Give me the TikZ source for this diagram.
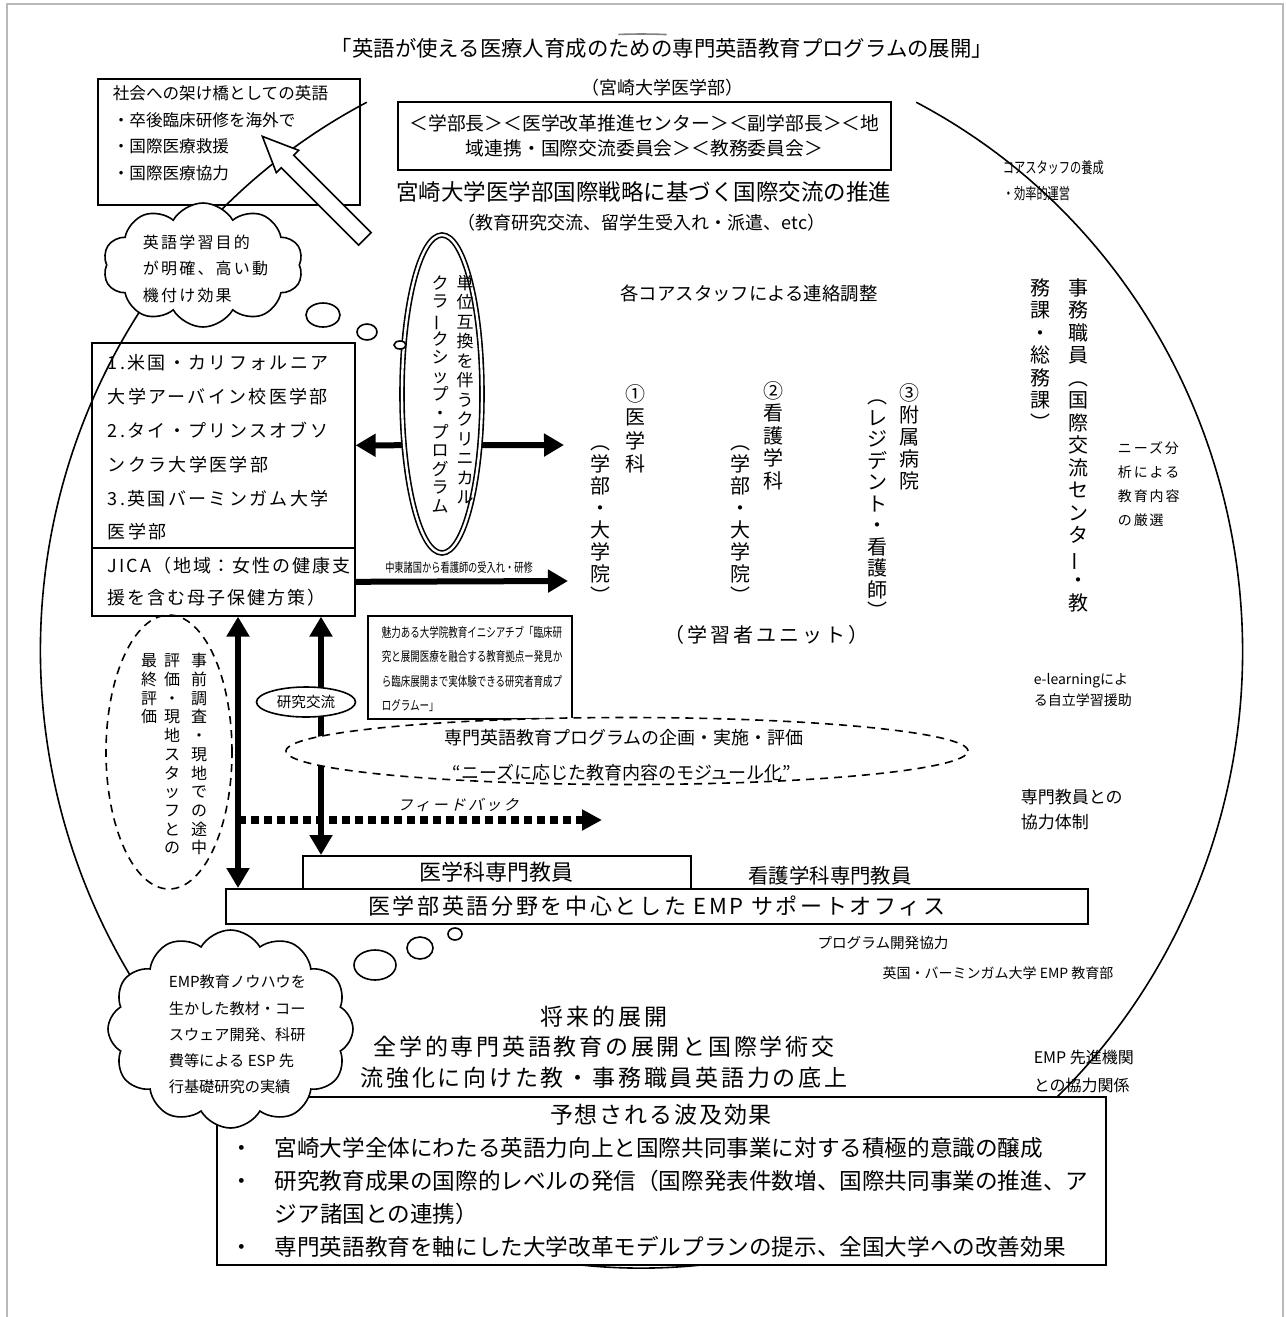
\documentclass[tikz,border=0pt]{standalone}
\usepackage{fontspec}
\usepackage{graphicx}
\setmainfont{Noto Sans CJK JP}
\newfontfamily\jpnarrow[FakeStretch=0.72]{Noto Sans CJK JP}
\newfontfamily\jpslant[FakeSlant=0.25]{Noto Sans CJK JP}
\newcommand{\jsize}[2]{\fontsize{#1}{#2}\selectfont}
\newcommand{\spaced}[1]{\addfontfeatures{LetterSpace=#1}}
\newcommand{\tatetop}{\rule{0pt}{0.88em}}
\newcommand{\tatebar}{\rotatebox[origin=c]{90}{ー}}
\usetikzlibrary{arrows.meta,shapes.geometric,shapes.symbols,shapes.arrows}

\begin{document}
\begin{tikzpicture}[x=0.5pt, y=-0.5pt, line width=0.8pt,
    box/.style={draw, inner sep=0pt, anchor=north west},
    para/.style={align=left, inner sep=0pt, anchor=north west},
    tate/.style={align=center, inner sep=0pt, anchor=north},
    oval/.style={ellipse, draw, inner sep=0pt},
    puff/.style={cloud, draw, fill=white, cloud ignores aspect, inner sep=0pt, cloud puff arc=120},
    thickarrow/.style={line width=3pt, >={Triangle[length=10pt,width=11pt]}},
    dashline/.style={dash pattern=on 4pt off 3pt}]
  \useasboundingbox (0,0) rectangle (1285,1317);
  \draw[gray!55, line width=1.2pt] (7,1317) -- (7,4) -- (1283,4) -- (1283,1317);

  % the large oval round the whole programme
  \draw (641.5,651) ++(-62.8:601 and 617) arc[start angle=-62.8, end angle=242.8, x radius=601, y radius=617];
  \draw[gray] (641.5,651) ++(-92.2:601 and 617) arc[start angle=-92.2, end angle=-87.6, x radius=601, y radius=617];

  \node[font=\jsize{10.7}{12}] (title) at (662,48) {「英語が使える医療人育成のための専門英語教育プログラムの展開」};
  \node[font=\jsize{9}{10}] (faculty) at (662,88) {（宮崎大学医学部）};
  \node[draw, minimum width=246.5pt, minimum height=34pt, align=center, font=\jsize{9.4}{12.5}] (council) at (644.5,136) {＜学部長＞＜医学改革推進センター＞＜副学部長＞＜地\\域連携・国際交流委員会＞＜教務委員会＞};
  \node[font=\jsize{11.25}{12}] (strategy) at (643.5,192) {宮崎大学医学部国際戦略に基づく国際交流の推進};
  \node[font=\jsize{9}{10}] (exchange) at (641.5,223) {（教育研究交流、留学生受入れ・派遣、etc）};
  \node[anchor=west, align=left, inner sep=0pt, font=\jpnarrow\jsize{7.8}{13}] (coretrain) at (1002,181) {コアスタッフの養成\\・効率的運営};

  \node[box, minimum width=131pt, minimum height=63pt] (bridge) at (97,78) {};
  \node[para, font=\jsize{8.3}{13.25}] (bridgetext) at (112,85) {社会への架け橋としての英語\\・卒後臨床研修を海外で\\・国際医療救援\\・国際医療協力};
  \node[single arrow, draw, fill=white, minimum height=72.5pt, inner xsep=0pt, inner ysep=4pt, single arrow head extend=3.5pt, single arrow tip angle=48, rotate=135, anchor=tip] (hollow) at (261,135) {};

  \node[puff, cloud puffs=10, minimum width=100pt, minimum height=62pt] (cloudA) at (203,265) {};
  \node[anchor=west, align=left, inner sep=0pt, font=\jsize{8}{13.25}\spaced{14}] (cloudAtext) at (142,268.5) {英語学習目的\\が明確、高い動\\機付け効果};
  \draw[fill=white] (323,315) ellipse [x radius=17, y radius=12];
  \draw[fill=white] (367,332) ellipse [x radius=10, y radius=8];

  \node[box, minimum width=131.5pt, minimum height=102.5pt] (partners) at (91,342) {};
  \node[para, font=\jsize{9}{16.9}\spaced{13}] (partnerstext) at (107,354) {1.米国・カリフォルニア\\大学アーバイン校医学部\\2.タイ・プリンスオブソ\\ンクラ大学医学部\\3.英国バーミンガム大学\\医学部};
  \node[box, minimum width=131.5pt, minimum height=34pt] (jica) at (91,547) {};
  \node[para, font=\jsize{9}{16}\spaced{11}] (jicatext) at (107,556) {JICA（地域：女性の健康支\\援を含む母子保健方策）};

  \node[box, minimum width=194pt, minimum height=16.5pt, font=\jsize{11}{12}] (medstaff) at (302,855) {医学科専門教員};
  \node[box, minimum width=431pt, minimum height=17.5pt, font=\jsize{11}{12}\spaced{12}] (office) at (225,888) {医学部英語分野を中心とした EMP サポートオフィス};

  \coordinate (learnL) at (564,445);
  \coordinate (learnJ) at (568,581);
  \coordinate (colL) at (238,0);
  \coordinate (colR) at (321,0);
  \coordinate (fbEnd) at (602,820);
  \draw[thickarrow, <->] (partners.east) -- (learnL);
  \draw[thickarrow, ->] (jica.east) -- (learnJ);
  \draw[thickarrow, <->] (jica.south -| colL) -- (office.north -| colL);
  \draw[thickarrow, <->] (jica.south -| colR) -- (medstaff.north -| colR);
  \draw[line width=4pt, dash pattern=on 4pt off 2.5pt, -{Triangle[length=10pt,width=10pt]}] (fbEnd -| colL) -- (fbEnd);
  \node[font=\jpnarrow\jsize{6.4}{8}] (nurselabel) at (459,568) {中東諸国から看護師の受入れ・研修};
  \node[font=\jpslant\jsize{7.5}{8}\spaced{18}] (fblabel) at (458,805) {フィードバック};

  \node[oval, double, double distance=1.2pt, fill=white, minimum width=40pt, minimum height=159pt] (clinic) at (442,394) {};
  \node[tate, font=\jsize{8.5}{9.75}] (clinicR) at (465,273.5) {\tatetop 単\\位\\互\\換\\を\\伴\\う\\ク\\リ\\ニ\\カ\\ル};
  \node[tate, font=\jsize{8.5}{9.3}] (clinicL) at (440,273.5) {\tatetop ク\\ラ\\\tatebar\\ク\\シ\\ッ\\プ\\・\\プ\\ロ\\グ\\ラ\\ム};
  \draw[fill=white] (400,345) ellipse [x radius=6, y radius=4];

  \node[tate, font=\jsize{10}{11.75}] (med) at (635,383) {\tatetop ①\\医\\学\\科};
  \node[tate, font=\jsize{10}{11}] (medsub) at (600,431) {\tatetop ︵\\学\\部\\・\\大\\学\\院\\︶};
  \node[tate, font=\jsize{10}{11.25}] (nurse) at (773,380) {\tatetop ②\\看\\護\\学\\科};
  \node[tate, font=\jsize{10}{11}] (nursesub) at (740,431) {\tatetop ︵\\学\\部\\・\\大\\学\\院\\︶};
  \node[tate, font=\jsize{10}{11}] (hosp) at (909,382) {\tatetop ③\\附\\属\\病\\院};
  \node[tate, font=\jsize{10}{10.75}] (hospsub) at (877,385.5) {\tatetop ︵\\レ\\ジ\\デ\\ン\\ト\\・\\看\\護\\師\\︶};
  \node[font=\jsize{10}{11}\spaced{15}] (learners) at (766,635) {（学習者ユニット）};
  \node[font=\jsize{9.2}{10}] (liaison) at (749,293) {各コアスタッフによる連絡調整};

  \node[tate, font=\jsize{10}{11.25}] (staffR) at (1078,277) {\tatetop 事\\務\\職\\員\\︵\\国\\際\\交\\流\\セ\\ン\\タ\\\tatebar\\・\\教};
  \node[tate, font=\jsize{10}{11.25}] (staffL) at (1040,277) {\tatetop 務\\課\\・\\総\\務\\課\\︶};
  \node[anchor=west, align=left, inner sep=0pt, font=\jsize{7}{12}\spaced{14}] (needs) at (1117,484.5) {ニーズ分\\析による\\教育内容\\の厳選};
  \node[anchor=west, align=left, inner sep=0pt, font=\jsize{7}{10.5}] (elearn) at (1033,690) {e-learningによ\\る自立学習援助};
  \node[anchor=west, align=left, inner sep=0pt, font=\jsize{8.5}{12.5}] (coop) at (1020,809.5) {専門教員との\\協力体制};

  \node[box, minimum width=102pt, minimum height=51.5pt] (initiative) at (367,615) {};
  \node[para, font=\jpnarrow\jsize{6.6}{12.15}] (initiativetext) at (381,625.5) {魅力ある大学院教育イニシアチブ「臨床研\\究と展開医療を融合する教育拠点ー発見か\\ら臨床展開まで実体験できる研究者育成プ\\ログラムー」};
  \node[oval, fill=white, minimum width=49.5pt, minimum height=15pt, font=\jsize{7.3}{8}] (research) at (306,702) {研究交流};
  \node[oval, dashline, fill=white, minimum width=341pt, minimum height=33.5pt] (program) at (627,751) {};
  \node[font=\jsize{9}{10}] (programtitle) at (624,738) {専門英語教育プログラムの企画・実施・評価};
  \node[font=\jsize{9}{10}] (programmod) at (622,773) {“ニーズに応じた教育内容のモジュール化”};

  \node[oval, dashline, minimum width=63pt, minimum height=137pt] (evaluation) at (169,752) {};
  \node[tate, font=\jsize{8}{9.35}] (evalR) at (199,652) {\tatetop 事\\前\\調\\査\\・\\現\\地\\で\\の\\途\\中};
  \node[tate, font=\jsize{8}{9.35}] (evalM) at (172,652) {\tatetop 評\\価\\・\\現\\地\\ス\\タ\\ッ\\フ\\と\\の};
  \node[tate, font=\jsize{8}{9.35}] (evalL) at (149,652) {\tatetop 最\\終\\評\\価};

  \node[font=\jsize{10.2}{11}] (nursestaff) at (830,876) {看護学科専門教員};
  \node[font=\jsize{7.3}{8}] (progdev) at (883,943) {プログラム開発協力};
  \node[font=\jsize{7}{8}] (bham) at (998,973) {英国・バーミンガム大学 EMP 教育部};
  \node[align=center, font=\jsize{11.5}{15.25}\spaced{12}] (future) at (604,1047) {将来的展開\\全学的専門英語教育の展開と国際学術交\\流強化に向けた教・事務職員英語力の底上};
  \node[anchor=west, align=left, inner sep=0pt, font=\jsize{8}{14}] (emppartner) at (1033,1071) {EMP 先進機関\\との協力関係};

  \node[box, fill=white, minimum width=444.5pt, minimum height=84pt] (effects) at (216,1096) {};
  \node[font=\jsize{11.5}{12}\spaced{8}] (effectstitle) at (661,1115) {予想される波及効果};
  \node[para, font=\jsize{11.3}{16.5}] (effectslist) at (230,1137) {\makebox[22pt][l]{・}宮崎大学全体にわたる英語力向上と国際共同事業に対する積極的意識の醸成\\\makebox[22pt][l]{・}研究教育成果の国際的レベルの発信（国際発表件数増、国際共同事業の推進、ア\\\hspace*{22pt}ジア諸国との連携）\\\makebox[22pt][l]{・}専門英語教育を軸にした大学改革モデルプランの提示、全国大学への改善効果};

  \node[puff, cloud puffs=12, minimum width=122.5pt, minimum height=99pt] (cloudB) at (230.5,1029) {};
  \node[anchor=west, align=left, inner sep=0pt, font=\jsize{7.6}{13.1}] (cloudBtext) at (168,1034.5) {EMP教育ノウハウを\\生かした教材・コー\\スウェア開発、科研\\費等による ESP 先\\行基礎研究の実績};
  \draw[fill=white] (375,965) ellipse [x radius=21, y radius=15];
  \draw[fill=white] (420,948) ellipse [x radius=13, y radius=11];
  \draw[fill=white] (455,934) ellipse [x radius=7, y radius=6];
\end{tikzpicture}
\end{document}
